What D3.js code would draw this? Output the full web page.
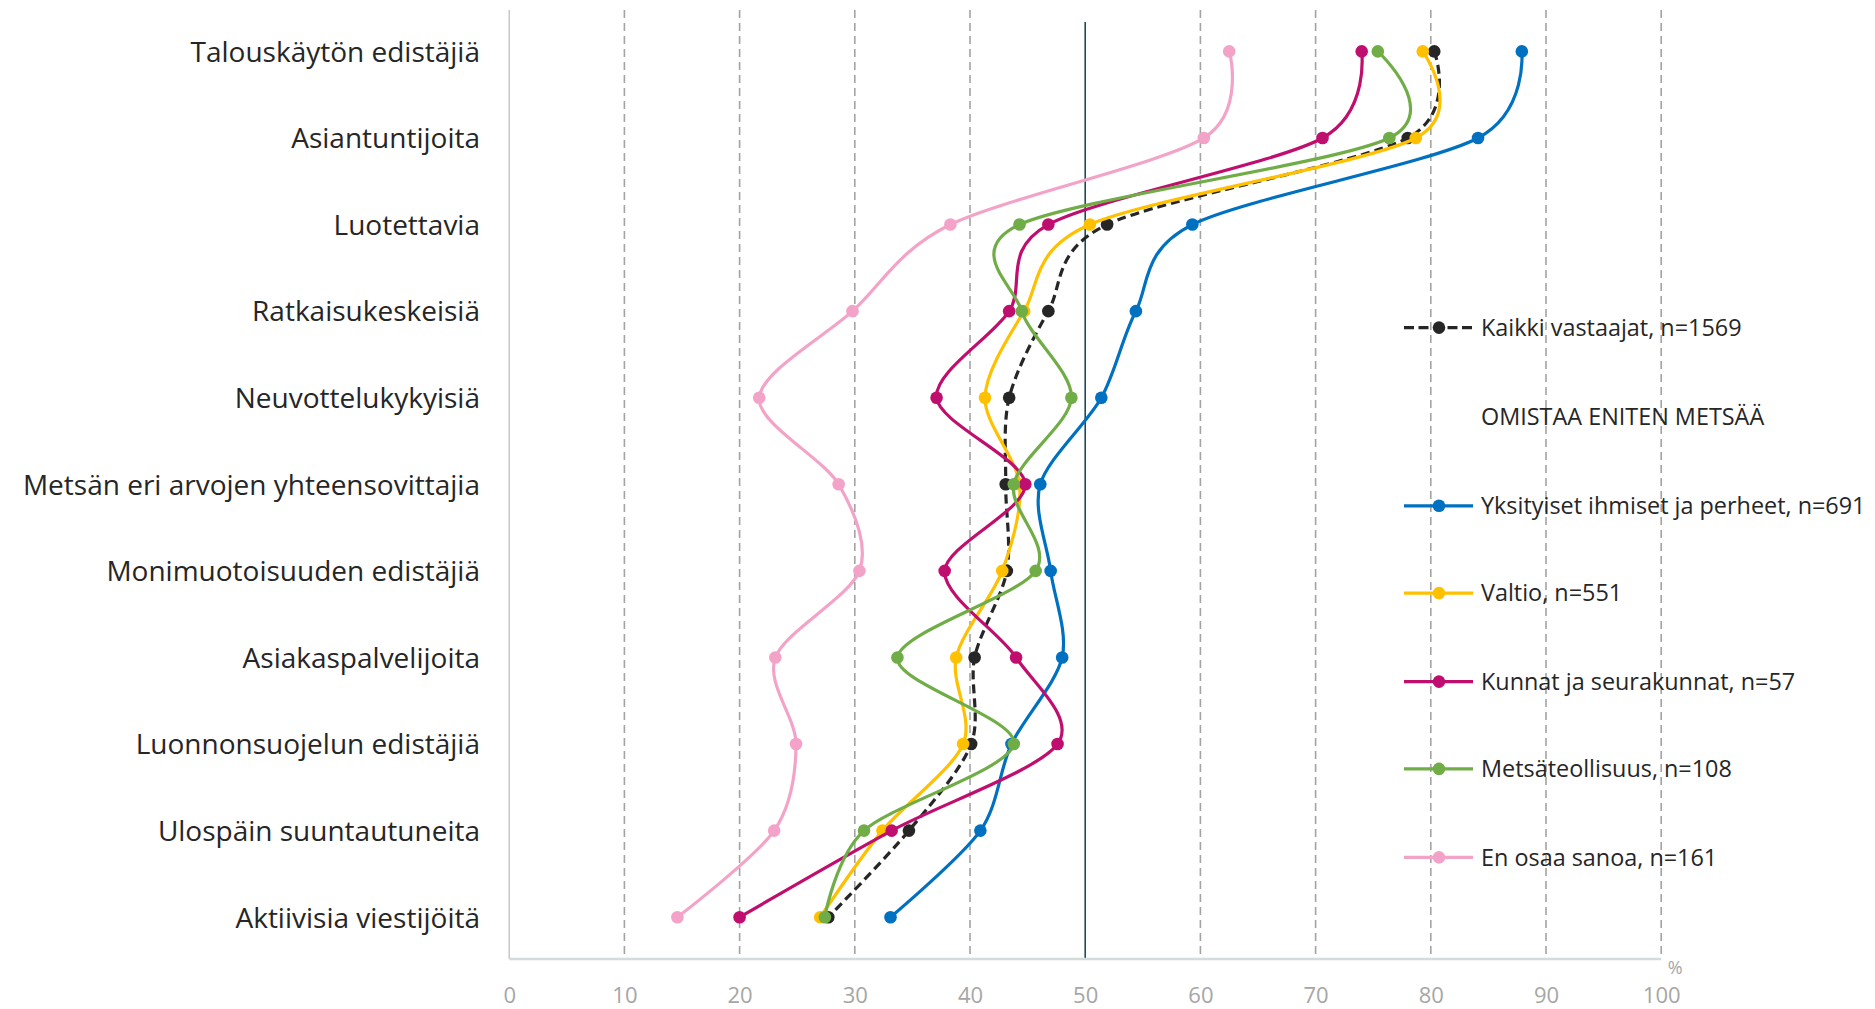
<!DOCTYPE html>
<html><head><meta charset="utf-8">
<script src="https://cdn.jsdelivr.net/npm/d3@7"></script>
<style>html,body{margin:0;padding:0;background:#fff;}svg{display:block;}</style>
</head><body>
<svg id="chart" width="1875" height="1009"></svg>
<script>
const categories = ["Talouskäytön edistäjiä","Asiantuntijoita","Luotettavia","Ratkaisukeskeisiä","Neuvottelukykyisiä","Metsän eri arvojen yhteensovittajia","Monimuotoisuuden edistäjiä","Asiakaspalvelijoita","Luonnonsuojelun edistäjiä","Ulospäin suuntautuneita","Aktiivisia viestijöitä"];
const seriesNames = ["Kaikki vastaajat, n=1569","Yksityiset ihmiset ja perheet, n=691","Valtio, n=551","Kunnat ja seurakunnat, n=57","Metsäteollisuus, n=108","En osaa sanoa, n=161"];
const legendHeader = "OMISTAA ENITEN METSÄÄ";
const kaikki     = [80.3, 78.0, 51.9, 46.8, 43.4, 43.1, 43.2, 40.4, 40.1, 34.7, 27.7];
const yksityiset = [87.9, 84.1, 59.3, 54.4, 51.4, 46.1, 47.0, 48.0, 43.6, 40.9, 33.1];
const valtio     = [79.3, 78.7, 50.4, 44.7, 41.3, 44.3, 42.8, 38.8, 39.4, 32.4, 27.0];
const kunnat     = [74.0, 70.6, 46.8, 43.4, 37.1, 44.8, 37.8, 44.0, 47.6, 33.2, 20.0];
const metsa      = [75.4, 76.4, 44.3, 44.5, 48.8, 43.8, 45.7, 33.7, 43.8, 30.8, 27.4];
const enosaa     = [62.5, 60.3, 38.3, 29.8, 21.7, 28.6, 30.4, 23.1, 24.9, 23.0, 14.6];
const xTicks = [0,10,20,30,40,50,60,70,80,90,100];

const seriesValues = [kaikki, yksityiset, valtio, kunnat, metsa, enosaa];
const colors = ["#262626","#0070C0","#FFC000","#C00E6F","#70AD47","#F4A3C8"];
const dashed = [true,false,false,false,false,false];

const svg = d3.select("#chart");
const x = d3.scaleLinear().domain([0,100]).range([509.2, 1661.2]);
const y = d3.scalePoint().domain(categories).range([51.4, 917.2]);
const plotTop = 10, plotBottom = 959;

// gridlines
svg.append("g").selectAll("line").data(xTicks.filter(t => t > 0 && t !== 50)).join("line")
  .attr("x1", d => x(d)).attr("x2", d => x(d)).attr("y1", plotTop).attr("y2", plotBottom)
  .attr("stroke", "#a3a3a3").attr("stroke-width", 1.6).attr("stroke-dasharray", "8,5");
// left axis line
svg.append("line").attr("x1", x(0)).attr("x2", x(0)).attr("y1", plotTop).attr("y2", plotBottom)
  .attr("stroke", "#bfbfbf").attr("stroke-width", 1.3);
// 50 line
svg.append("line").attr("x1", x(50)).attr("x2", x(50)).attr("y1", plotTop+12).attr("y2", plotBottom)
  .attr("stroke", "#1d4b5a").attr("stroke-width", 1.6);
// bottom axis
svg.append("line").attr("x1", x(0)).attr("x2", x(100)).attr("y1", plotBottom).attr("y2", plotBottom)
  .attr("stroke", "#d3dcdc").attr("stroke-width", 2.5);

// x tick labels via axis
const xAxis = d3.axisBottom(x).tickValues(xTicks).tickSize(0).tickPadding(0);
const gx = svg.append("g").attr("transform", `translate(0,${plotBottom + 31})`).call(xAxis);
gx.select(".domain").remove();
gx.selectAll("text").attr("font-family", "'Open Sans', sans-serif").attr("font-size", 22)
  .attr("fill", "#a6a6a6").attr("dy", "0.6em");
svg.append("text").attr("x", x(100) + 14).attr("y", 974).attr("text-anchor", "middle")
  .attr("font-family", "'Open Sans', sans-serif").attr("font-size", 18).attr("fill", "#a6a6a6").text("%");

// category labels via axis
const yAxis = d3.axisLeft(y).tickSize(0).tickPadding(0);
const gy = svg.append("g").attr("transform", `translate(480,0)`).call(yAxis);
gy.select(".domain").remove();
gy.selectAll("text").attr("font-family", "'Open Sans', sans-serif").attr("font-size", 28)
  .attr("fill", "#262626").attr("dy", "0.35em");

// series
const line = d3.line().x(d => x(d.v)).y(d => y(d.c)).curve(d3.curveCardinal.tension(0.1));
seriesValues.forEach((vals, i) => {
  const pts = vals.map((v, j) => ({v, c: categories[j]}));
  const g = svg.append("g");
  g.append("path").attr("d", line(pts)).attr("fill", "none").attr("stroke", colors[i])
    .attr("stroke-width", 3.2).attr("stroke-dasharray", dashed[i] ? "9,5" : null)
    .attr("stroke-linecap", "butt");
  g.selectAll("circle").data(pts).join("circle").attr("cx", d => x(d.v)).attr("cy", d => y(d.c))
    .attr("r", 6.3).attr("fill", colors[i]);
});

// legend
const legendY = [327.6, 505.8, 593.1, 681.6, 768.9, 857.4];
const lg = svg.append("g").attr("font-family", "'Open Sans', sans-serif").attr("font-size", 23.4).attr("fill", "#262626");
seriesNames.forEach((name, i) => {
  const yy = legendY[i];
  lg.append("line").attr("x1", 1404).attr("x2", 1473).attr("y1", yy).attr("y2", yy)
    .attr("stroke", colors[i]).attr("stroke-width", 3.2).attr("stroke-dasharray", dashed[i] ? "10,4.5" : null);
  lg.append("circle").attr("cx", 1439).attr("cy", yy).attr("r", 6.3).attr("fill", colors[i]);
  lg.append("text").attr("x", 1481).attr("y", yy).attr("dy", "0.35em").text(name);
});
lg.append("text").attr("x", 1481).attr("y", 417).attr("dy", "0.35em").text(legendHeader);
</script>
</body></html>
